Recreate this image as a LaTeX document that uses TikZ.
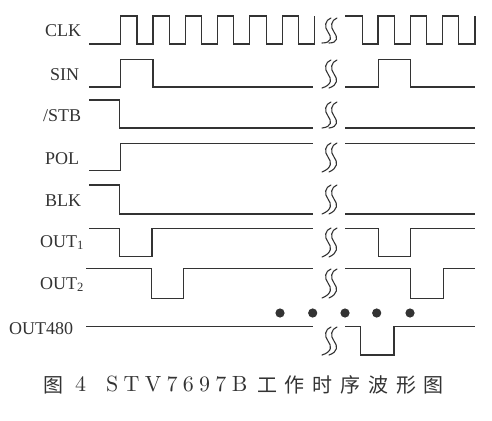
\documentclass[tikz,border=0pt]{standalone}
\usepackage{fontspec}
\newfontfamily\lab{Liberation Serif}
\newfontfamily\cjk{Noto Sans CJK SC}[LetterSpace=39]
\newfontfamily\capfont{lmroman10-regular}[Extension=.otf,LetterSpace=24]
\definecolor{ink}{HTML}{333333}
\begin{document}
\begin{tikzpicture}[x=1pt,y=-1pt,
  wave/.style={draw=ink,line width=1.1pt,line join=miter},
  brk/.style={draw=ink,line width=1.1pt,line cap=round},
  lbl/.style={anchor=base west,inner sep=0pt,text=ink,font=\lab\fontsize{18}{18}\selectfont},
  dot/.style={fill=ink,draw=none},
  capl/.style={anchor=base west,inner sep=0pt,text=ink,font=\capfont\fontsize{22}{22}\selectfont},
  capc/.style={anchor=base west,inner sep=0pt,text=ink,font=\cjk\fontsize{20}{20}\selectfont},
  pics/brkmark/.style={code={
    \draw[brk] (3,0) .. controls (-3,2) and (-4,9) .. (0,14) .. controls (4,19) and (4,25) .. (-6,#1);
    \draw[brk] (9,0) .. controls (3,2) and (2,9) .. (6,14) .. controls (10,19) and (10,25) .. (1,#1);
  }}]
\fill[white] (0,0) rectangle (492,420);
\useasboundingbox (0,0) rectangle (492,420);

% labels
\node[lbl] (lclk) at (45,37) {CLK};
\node[lbl] (lsin) at (50,80) {SIN};
\node[lbl] (lstb) at (43,121) {/STB};
\node[lbl] (lpol) at (45,164) {POL};
\node[lbl] (lblk) at (45,206) {BLK};
\node[lbl] (lo1) at (40,247) {OUT\textsubscript{1}};
\node[lbl] (lo2) at (40,289) {OUT\textsubscript{2}};
\node[lbl] (lo480) at (9,334) {OUT480};

% CLK
\draw[wave] (89,44) \foreach \r in {120.7,153,185.3,217.6,249.9,282.2}{ -- (\r,44) -- (\r,16) -- (\r+16.3,16) -- (\r+16.3,44)} -- (314.5,44) -- (314.5,16);
\draw[wave] (345,16) -- (362.7,16) -- (362.7,44) \foreach \r in {378,410.3,442.6}{ -- (\r,44) -- (\r,16) -- (\r+16.3,16) -- (\r+16.3,44)} -- (475,44) -- (475,16);
% SIN
\draw[wave] (89,87) -- (120.7,87) -- (120.7,59.5) -- (153,59.5) -- (153,87) -- (313,87);
\draw[wave] (345,87) -- (378.3,87) -- (378.3,59.5) -- (410.7,59.5) -- (410.7,87) -- (475,87);
% /STB
\draw[wave] (89,100) -- (119.5,100) -- (119.5,128) -- (313,128);
\draw[wave] (345,128) -- (475,128);
% POL
\draw[wave] (89,170.7) -- (120.5,170.7) -- (120.5,143.3) -- (313,143.3);
\draw[wave] (345,143.3) -- (475,143.3);
% BLK
\draw[wave] (89,185) -- (119.5,185) -- (119.5,214) -- (313,214);
\draw[wave] (345,214) -- (475,214);
% OUT1
\draw[wave] (89,228.3) -- (119.5,228.3) -- (119.5,256.7) -- (152,256.7) -- (152,228.3) -- (313,228.3);
\draw[wave] (345,228.3) -- (378.3,228.3) -- (378.3,256.7) -- (410.3,256.7) -- (410.3,228.3) -- (475,228.3);
% OUT2
\draw[wave] (86,268.3) -- (151.7,268.3) -- (151.7,298.3) -- (183.7,298.3) -- (183.7,268.3) -- (313,268.3);
\draw[wave] (345,268.3) -- (410.7,268.3) -- (410.7,298.3) -- (443.5,298.3) -- (443.5,268.3) -- (475,268.3);
% OUT480
\draw[wave] (86,326.7) -- (313,326.7);
\draw[wave] (345,326.7) -- (360.7,326.7) -- (360.7,355) -- (394,355) -- (394,326.7) -- (475,326.7);

% break marks
\pic at (328,18) {brkmark=25};
\pic at (328,60) {brkmark=28};
\pic at (328,102) {brkmark=26};
\pic at (328,143) {brkmark=29};
\pic at (328,185) {brkmark=29};
\pic at (328,228) {brkmark=29};
\pic at (328,269) {brkmark=29};
\pic at (328,327) {brkmark=28};

% dots
\foreach \x in {280,312.7,345,376.7,410}{\fill[dot] (\x,313) circle (4.6);}

% caption
\node[capc] (c1) at (43,392) {图};
\node[capl] (c2) at (75,391) {4};
\node[capl] (c3) at (106,391) {STV7697B};
\node[capc] (c4) at (257,392) {工作时序波形图};
\end{tikzpicture}
\end{document}
